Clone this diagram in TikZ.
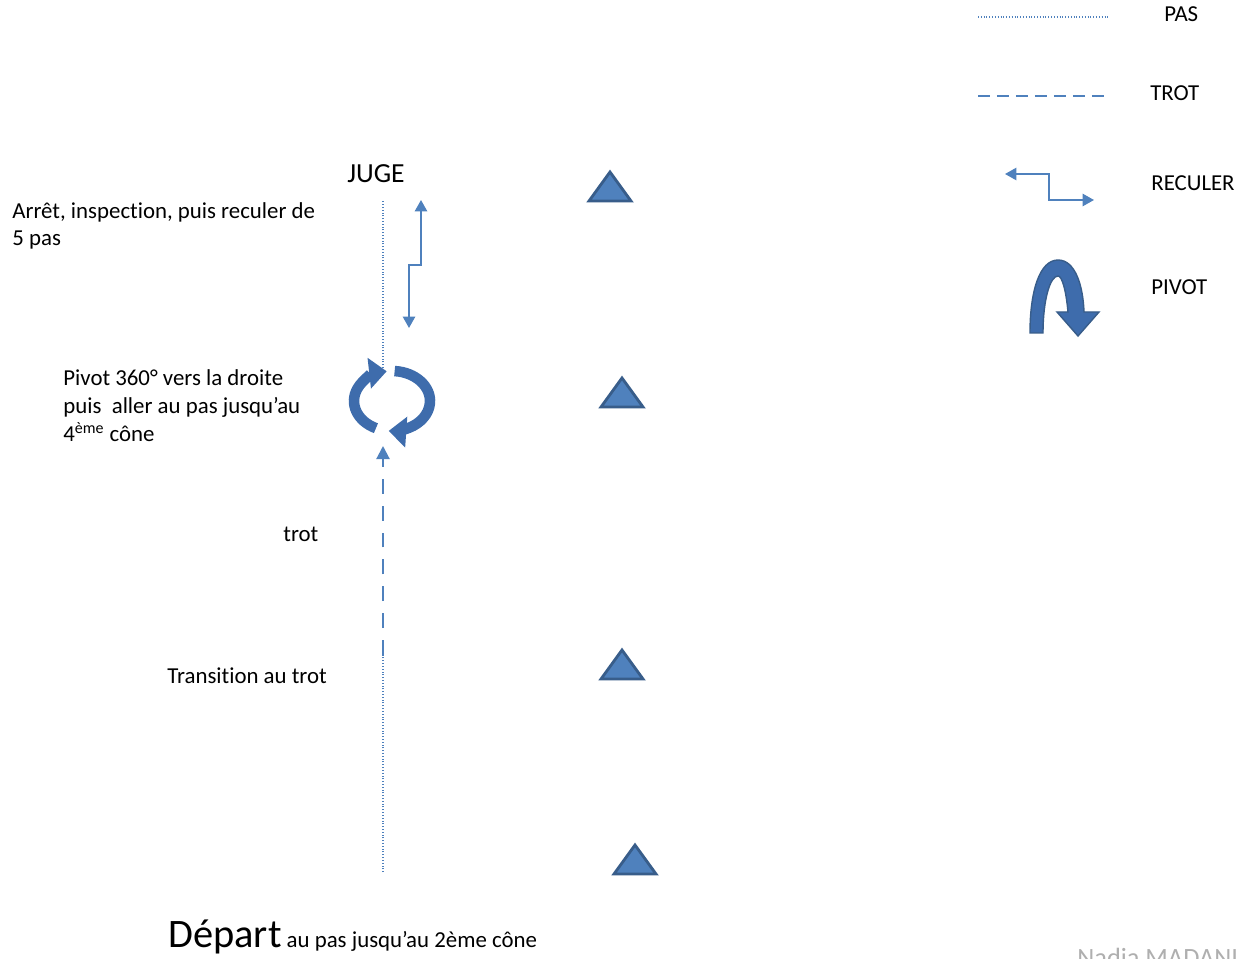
\documentclass[tikz,border=0pt]{standalone}
\usepackage{fontspec}
\setmainfont[Ligatures=NoCommon]{Carlito}
\usepackage{tikz}
\usetikzlibrary{arrows.meta}
\definecolor{lineblue}{RGB}{79,129,189}
\definecolor{conefill}{RGB}{79,129,189}
\definecolor{coneedge}{RGB}{56,93,138}
\definecolor{pivotblue}{RGB}{62,108,172}
\definecolor{signgray}{RGB}{175,175,175}

\begin{document}
\begin{tikzpicture}[x=0.02cm,y=-0.02cm,>={Triangle[length=6.5pt,width=7pt]},
  txt/.style={font=\fontsize{13}{15.9}\selectfont,inner sep=0pt,anchor=base west,align=left},
  pas/.style={lineblue,line width=0.8pt,dash pattern=on 0.5pt off 1.1pt},
  trot/.style={lineblue,line width=1.2pt,dash pattern=on 8.5pt off 6.8pt},
  recul/.style={lineblue,line width=1.1pt,<->},
  cone/.style={fill=conefill,draw=coneedge,line width=1.6pt},
  turn/.style={pivotblue,line width=6pt,-{Triangle[length=10pt,width=17pt]}}]
\clip (0,0) rectangle (1247,959);
\fill[white] (0,0) rectangle (1247,959);

% legende
\draw[pas] (978,17) -- (1108,17);
\node[txt] (pas) at (1164,22) {PAS};
\draw[trot,line width=0.9pt,dash pattern=on 6.8pt off 4pt] (978,96) -- (1105,96);
\node[txt] (trotleg) at (1150,101) {TROT};
\draw[recul] (1005,174) -- (1049,174) -- (1049,200) -- (1094,200);
\node[txt] (reculer) at (1151,191) {RECULER};
\filldraw[fill=pivotblue,draw=coneedge,line width=0.8pt]
  (1030,333) .. controls (1030,290) and (1040,260) .. (1058,260)
  .. controls (1075,260) and (1083,285) .. (1084,312) -- (1099,312) -- (1078,336)
  -- (1057,312) -- (1068,312) .. controls (1066,290) and (1062,276) .. (1058,276)
  .. controls (1050,276) and (1043,300) .. (1043,333) -- cycle;
\node[txt] (pivotleg) at (1151,295) {PIVOT};

% parcours
\node[txt,anchor=base,font=\fontsize{15.7}{19}\selectfont] (juge) at (376,183) {JUGE};
\coordinate (arret pt) at (383,200);
\coordinate (pivot haut) at (383,368);
\coordinate (pivot bas) at (383,446);
\coordinate (trans pt) at (383,655);
\coordinate (depart pt) at (383,872);
\draw[pas] (depart pt) -- (trans pt);
\draw[trot,->,>={Triangle[length=7.5pt,width=7.5pt]}] (trans pt) -- (pivot bas);
\draw[pas] (pivot haut) -- (arret pt);

\draw[recul] (421,200) -- (421,265) -- (409,265) -- (409,328);

\draw[turn] (392,401) ++(115:38 and 30) arc[start angle=115,end angle=262,x radius=38,y radius=30];
\draw[turn] (392,401) ++(-86:38 and 30) arc[start angle=-86,end angle=95,x radius=38,y radius=30];

\foreach \cx/\cy in {610/201,622/407,622/679,635/874}
  \draw[cone] (\cx-21,\cy) -- (\cx,\cy-29) -- (\cx+21,\cy) -- cycle;

\node[txt] (arret) at (12,246) {Arrêt, inspection, puis reculer de\\5 pas};
\node[txt] (pivot) at (63,441) {Pivot 360° vers la droite\\puis\ \ aller au pas jusqu’au\\4\textsuperscript{ème} cône};
\node[txt] (trot) at (283,541) {trot};
\node[txt] (transition) at (167,683) {Transition au trot};
\node[txt] (depart) at (168,947) {{\fontsize{23}{26}\selectfont Départ} au pas jusqu’au 2ème cône};
\node[txt,font=\fontsize{15}{18}\selectfont,text=signgray] (auteur) at (1077,966) {Nadia MADANI};
\end{tikzpicture}
\end{document}
